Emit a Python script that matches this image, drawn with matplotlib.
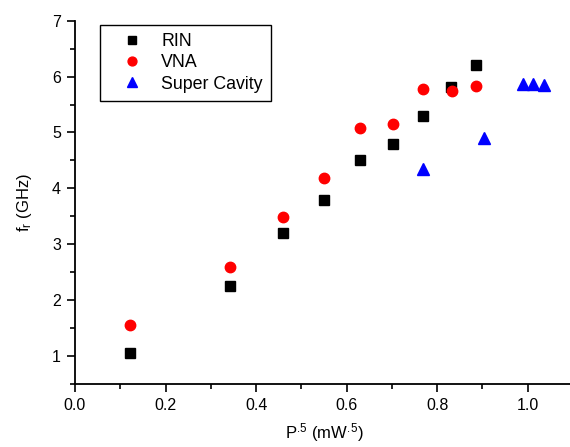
import matplotlib
matplotlib.use("Agg")
import matplotlib.pyplot as plt
from matplotlib.ticker import MultipleLocator

plt.rcParams['font.family'] = ['Liberation Sans', 'DejaVu Sans']
plt.rcParams['mathtext.default'] = 'regular'

rin_x = [0.122, 0.342, 0.460, 0.550, 0.630, 0.703, 0.768, 0.830, 0.885]
rin_y = [1.06, 2.25, 3.20, 3.80, 4.50, 4.80, 5.30, 5.81, 6.20]
vna_x = [0.122, 0.342, 0.460, 0.550, 0.630, 0.703, 0.768, 0.832, 0.885]
vna_y = [1.55, 2.59, 3.48, 4.18, 5.08, 5.16, 5.77, 5.75, 5.84]
sc_x = [0.768, 0.904, 0.990, 1.012, 1.035]
sc_y = [4.34, 4.91, 5.87, 5.86, 5.85]

fig = plt.figure(figsize=(5.70, 4.47), dpi=100)
ax = fig.add_axes([75/570, 63/447, 498/570, 363.3/447])

ax.plot(rin_x, rin_y, 's', color='black', markersize=7, linestyle='none', label='RIN')
ax.plot(vna_x, vna_y, 'o', color='red', markersize=7.5, linestyle='none', label='VNA')
ax.plot(sc_x, sc_y, '^', color='blue', markersize=8, linestyle='none', label='Super Cavity')

ax.set_xlim(0.0, 1.1)
ax.set_ylim(0.5, 7.0)
ax.xaxis.set_major_locator(MultipleLocator(0.2))
ax.xaxis.set_minor_locator(MultipleLocator(0.1))
ax.yaxis.set_major_locator(MultipleLocator(1))
ax.yaxis.set_minor_locator(MultipleLocator(0.5))
ax.xaxis.set_major_formatter(plt.FuncFormatter(lambda v, p: f"{v:.1f}"))
ax.yaxis.set_major_formatter(plt.FuncFormatter(lambda v, p: f"{v:.0f}"))

for s in ['top', 'right']:
    ax.spines[s].set_visible(False)
for s in ['left', 'bottom']:
    ax.spines[s].set_linewidth(1.3)
ax.tick_params(which='major', direction='out', length=6, width=1.2, labelsize=11.5, pad=4)
ax.tick_params(which='minor', direction='out', length=3.5, width=1.2)

ax.set_xlabel(r'P$^{.\!5}$ (mW$^{.\!5}$)', fontsize=12, labelpad=6)
ax.set_ylabel(r'f$_{r}$ (GHz)', fontsize=12, labelpad=13)

leg = ax.legend(loc='upper left', bbox_to_anchor=(25/498, 1 - 4.3/363.3), fontsize=12.8,
                frameon=True, fancybox=False, edgecolor='black', framealpha=1,
                handletextpad=0.3, borderpad=0.45, labelspacing=0.24, handlelength=2.7,
                markerscale=0.85, borderaxespad=0)
leg.get_frame().set_linewidth(1.0)

fig.savefig('out.png', dpi=100)
